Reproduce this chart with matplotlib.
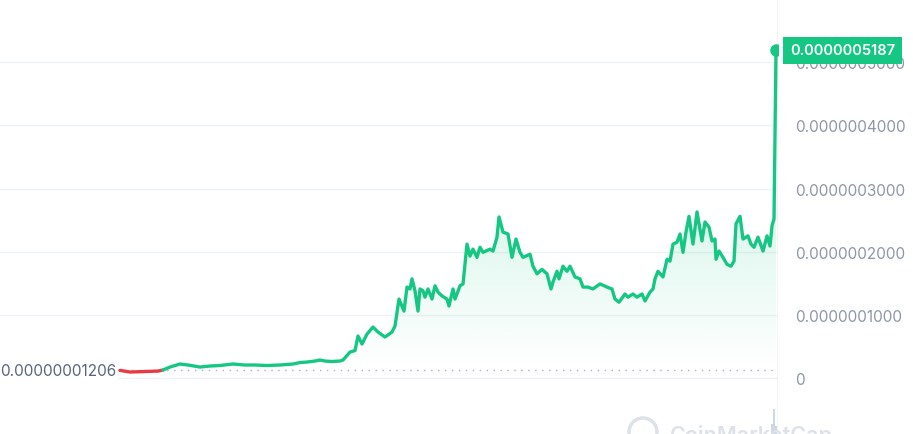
import matplotlib.pyplot as plt
import numpy as np
from matplotlib.patches import Polygon, Circle
from matplotlib.transforms import IdentityTransform

plt.rcParams['font.family'] = ['Inter', 'DejaVu Sans']

# time steps (hours from start) and price in units of 1e-8
t = [0, 10, 25, 38, 43, 50, 60, 68, 80, 90, 100, 113, 125, 135, 147, 160, 173, 180,
     187, 195, 200, 205, 212, 220, 223, 230, 235, 238, 242, 247, 253, 258, 265, 272,
     275, 279, 284, 287, 290, 292, 295, 298, 300, 303, 305, 308, 312, 315, 318, 322,
     327, 329, 333, 335, 340, 343, 347, 350, 353, 357, 360, 363, 370, 373, 377, 379,
     383, 388, 392, 396, 400, 403, 410, 413, 417, 422, 427, 431, 433, 437, 439, 443,
     447, 450, 455, 460, 463, 468, 473, 480, 487, 492, 495, 499, 505, 508, 513, 517,
     522, 525, 530, 533, 535, 538, 543, 547, 550, 553, 557, 560, 563, 566, 569, 573,
     577, 582, 585, 589, 592, 595, 596, 599, 603, 607, 611, 614, 616, 620, 623, 628,
     631, 634, 638, 643, 647, 650, 652, 654, 656]
price = [1.21, 0.95, 1.03, 1.10, 1.27, 1.74, 2.22, 2.06, 1.74, 1.90, 1.98, 2.22, 2.06,
         2.06, 1.98, 2.06, 2.22, 2.45, 2.53, 2.69, 2.85, 2.69, 2.61, 2.69, 2.85, 4.11,
         4.35, 6.65, 5.38, 6.96, 8.07, 7.28, 6.49, 7.28, 8.23, 12.5, 10.6, 14.4, 14.1,
         15.7, 13.8, 10.6, 14.1, 13.8, 12.8, 14.1, 12.5, 14.6, 13.6, 13.0, 12.5, 11.4,
         14.1, 12.5, 14.6, 14.9, 21.2, 19.3, 20.4, 19.1, 20.7, 19.9, 20.4, 20.1, 22.3,
         25.5, 23.1, 22.8, 19.1, 22.0, 19.9, 19.1, 19.6, 17.7, 16.5, 17.2, 16.5, 14.1,
         15.2, 16.9, 15.7, 17.7, 16.9, 17.7, 16.0, 15.7, 14.4, 14.4, 14.1, 14.9, 14.4,
         14.1, 12.5, 12.0, 13.3, 12.8, 13.3, 12.8, 13.3, 12.2, 13.6, 14.1, 15.7, 16.9,
         16.0, 18.8, 18.5, 21.2, 21.5, 22.8, 19.9, 23.1, 25.6, 21.2, 26.3, 21.7, 24.7,
         23.9, 21.7, 22.0, 18.8, 20.1, 19.1, 18.0, 17.7, 18.5, 24.4, 25.6, 22.0, 22.5,
         21.2, 20.7, 22.3, 20.1, 22.5, 20.9, 24.1, 25.2, 51.87]
vol_t = [652, 654, 656]
vol = [0.4, 1.0, 0.3]

x_offset = 120  # chart starts a bit to the right of the panel edge
tx = np.array(t) + x_offset
p = np.array(price) * 1e-8
base = p[0]

fig = plt.figure(figsize=(9.13, 4.35), dpi=100)
ax = fig.add_axes([0, 0, 778 / 913, 1])
x_max = 778
ax.set_xlim(0, x_max)
ymin, ymax = -0.886e-7, 6.0e-7
ax.set_ylim(ymin, ymax)

for g in [0, 1e-7, 2e-7, 3e-7, 4e-7, 5e-7]:
    ax.axhline(g, color='#eff2f5', lw=1, zorder=0)

# gradient fill under the line
grad = np.linspace(0.17, 0.0, 256).reshape(-1, 1)
cols = np.zeros((256, 1, 4))
cols[..., 0] = 22 / 255
cols[..., 1] = 199 / 255
cols[..., 2] = 132 / 255
cols[..., 3] = grad
img = ax.imshow(cols, aspect='auto', extent=[tx[0], tx[-1], base, 3.0e-7],
                origin='upper', zorder=1)
verts = np.vstack([np.column_stack([tx, np.maximum(p, base)]),
                   [[tx[-1], base], [tx[0], base]]])
clip = Polygon(verts, closed=True, transform=ax.transData, facecolor='none', edgecolor='none')
ax.add_patch(clip)
img.set_clip_path(clip)

# baseline dotted line
ax.axhline(base, color='#a6b0c3', lw=1, ls=(0, (1, 4)), zorder=1)

# line: red below start price, green above
split = 4
ax.plot(tx[:split + 1], p[:split + 1], color='#ea3943', lw=2.4, zorder=3,
        solid_capstyle='round')
ax.plot(tx[split:], p[split:], color='#16c784', lw=2.4, zorder=3,
        solid_joinstyle='round', solid_capstyle='round')
ax.plot(tx[-1], p[-1], 'o', color='#16c784', ms=8, zorder=4)

# volume bars at the bottom
ax.bar(np.array(vol_t) + x_offset, np.array(vol) * 0.4e-7, bottom=ymin, width=1.2,
       color='#cfd6e4', zorder=1)

# right border
ax.axvline(x_max - 0.5, color='#eff2f5', lw=1.2, zorder=0)

for s in ax.spines.values():
    s.set_visible(False)
ax.set_xticks([])
ax.yaxis.tick_right()
ax.set_yticks([0, 1e-7, 2e-7, 3e-7, 4e-7, 5e-7])
ax.set_yticklabels(['0', '0.0000001000', '0.0000002000', '0.0000003000',
                    '0.0000004000', '0.0000005000'])
ax.tick_params(axis='y', length=0, pad=12, labelsize=11, labelcolor='#8f97a6')

# start price label
ax.text(0, base, '0.00000001206', fontsize=11, color='#58667e', va='center',
        ha='left', zorder=5,
        bbox=dict(facecolor='white', edgecolor='none', pad=1.5))

# current price tag
ax.text(x_max + 12, p[-1], '0.0000005187', fontsize=10.5, color='white', va='center',
        ha='left', fontweight='semibold', zorder=10, clip_on=False,
        bbox=dict(facecolor='#16c784', edgecolor='none', boxstyle='square,pad=0.45'))

# watermark
fig.text(670 / 913, 10 / 435, 'CoinMarketCap', fontsize=15.5, color='#dde1e8',
         fontweight='semibold', ha='left', va='top')
fig.add_artist(Circle((643, 2), 14, transform=IdentityTransform(), facecolor='none',
                      edgecolor='#dde1e8', lw=2.5))

fig.savefig('out.png', dpi=100)
